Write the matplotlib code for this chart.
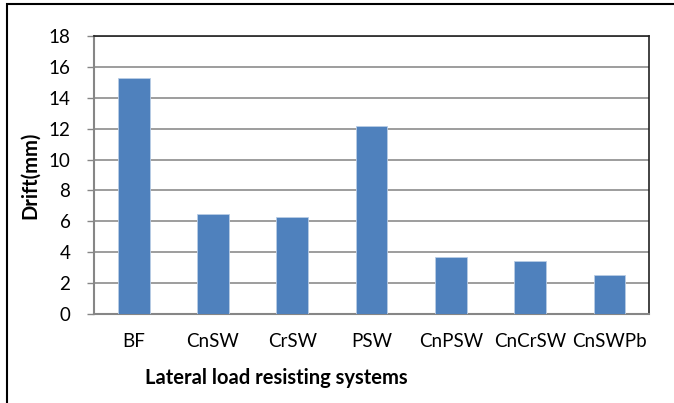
import matplotlib
matplotlib.use("Agg")
import matplotlib.pyplot as plt
from matplotlib.patches import Rectangle

categories = ["BF", "CnSW", "CrSW", "PSW", "CnPSW", "CnCrSW", "CnSWPb"]
drift = [15.3, 6.5, 6.3, 12.2, 3.7, 3.4, 2.5]
yticks = [0, 2, 4, 6, 8, 10, 12, 14, 16, 18]

plt.rcParams['font.family'] = ['Lato', 'DejaVu Sans']

W, H = 674, 403
fig = plt.figure(figsize=(W / 100, H / 100), dpi=100)
ax = fig.add_axes([94 / W, 1 - 314 / H, (649 - 94) / W, (314 - 36) / H])

FS = 13.5
LFS = 14.5
x = range(len(categories))
ax.bar(x, drift, width=0.40, color="#4f81bd", edgecolor="#b9cde5", linewidth=0.6, zorder=3)
ax.set_xlim(-0.5, len(categories) - 0.5)
ax.set_ylim(0, 18)
ax.set_yticks(yticks)
ax.set_yticklabels([str(v) for v in yticks], fontsize=FS)
ax.set_xticks(list(x))
ax.set_xticklabels(categories, fontsize=FS)
ax.tick_params(axis='x', length=0, pad=14)
ax.tick_params(axis='y', length=5, width=1, color="#868686", pad=12, direction='out')
ax.yaxis.grid(True, color="#8c8c8c", linewidth=1.2, zorder=0)
ax.set_axisbelow(True)
for s in ['left', 'bottom']:
    ax.spines[s].set_color("#868686")
    ax.spines[s].set_linewidth(1.5)
for s in ['top', 'right']:
    ax.spines[s].set_color("#222222")
    ax.spines[s].set_linewidth(1.2)

fig.text(30 / W, 1 - 175 / H, "Drift(mm)", rotation=90, ha='center', va='center',
         fontsize=LFS, fontweight='bold')
fig.text(276 / W, 1 - 378 / H, "Lateral load resisting systems", ha='center', va='center',
         fontsize=LFS, fontweight='bold')

fig.patches.append(Rectangle((7 / W, -0.1), 1.2, 1.1 - 4 / H, transform=fig.transFigure,
                             fill=False, edgecolor="black", linewidth=1.5))

fig.savefig("out.png", dpi=100)
